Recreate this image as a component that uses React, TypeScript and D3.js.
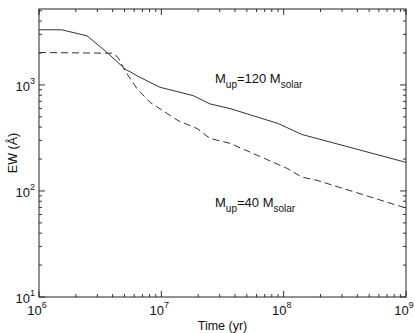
import { useEffect, useRef } from 'react';
import * as d3 from 'd3';

// time (yr) and EW (Angstrom)
const timeUp120 = [1e6, 1.53e6, 2.47e6, 3.6e6, 5.05e6, 6.7e6, 9.75e6, 1.82e7, 2.5e7, 3.65e7, 9e7, 1.41e8, 1e9];
const ewUp120 = [3311, 3311, 2905, 2023, 1413, 1179, 950, 793, 662, 598, 433, 341, 186];

const timeUp40 = [1e6, 4.03e6, 4.43e6, 5.05e6, 6.32e6, 8.09e6, 1.37e7, 1.96e7, 2.5e7, 3.65e7, 1.07e8, 1.41e8, 1.87e8, 1e9];
const ewUp40 = [2023, 1990, 1815, 1362, 923, 685, 461, 388, 313, 281, 163, 135, 126, 69];

const xMajor = [6, 7, 8, 9];
const yMajor = [1, 2, 3];

const W = 415;
const H = 333;
const FONT = '"Liberation Sans", Arial, Helvetica, sans-serif';

const App = () => {
  const svgRef = useRef<SVGSVGElement>(null);

  useEffect(() => {
    document.body.style.margin = '0';
    const margin = { top: 9, right: 9, bottom: 36, left: 39 };
    const width = W - margin.left - margin.right;
    const height = H - margin.top - margin.bottom;

    const svg = d3.select(svgRef.current);
    svg.selectAll('*').remove();
    const g = svg.append('g').attr('transform', `translate(${margin.left},${margin.top})`);

    const x = d3.scaleLog().domain([1e6, 1e9]).range([0, width]);
    const y = d3.scaleLog().domain([10, 5200]).range([height, 0]);

    // 刻度（四邊朝內）
    const xt = x.ticks();
    const yt = y.ticks();
    const isMajor = (v: number) => Math.abs(Math.log10(v) - Math.round(Math.log10(v))) < 1e-6;
    const tickCol = '#333';

    xt.forEach((v) => {
      const len = isMajor(v) ? 6 : 3;
      const px = x(v);
      g.append('line').attr('x1', px).attr('x2', px).attr('y1', height).attr('y2', height - len).attr('stroke', tickCol);
      g.append('line').attr('x1', px).attr('x2', px).attr('y1', 0).attr('y2', len).attr('stroke', tickCol);
    });
    yt.forEach((v) => {
      const len = isMajor(v) ? 6 : 3;
      const py = y(v);
      g.append('line').attr('x1', 0).attr('x2', len).attr('y1', py).attr('y2', py).attr('stroke', tickCol);
      g.append('line').attr('x1', width).attr('x2', width - len).attr('y1', py).attr('y2', py).attr('stroke', tickCol);
    });

    g.append('rect')
      .attr('x', 0)
      .attr('y', 0)
      .attr('width', width)
      .attr('height', height)
      .attr('fill', 'none')
      .attr('stroke', '#222')
      .attr('stroke-width', 1);

    // 刻度標籤 10^n
    xMajor.forEach((e) => {
      const t = g
        .append('text')
        .attr('x', x(Math.pow(10, e)) - 2)
        .attr('y', height + 18)
        .attr('text-anchor', 'middle')
        .style('font-family', FONT)
        .style('font-size', '13px')
        .attr('fill', '#111');
      t.append('tspan').text('10');
      t.append('tspan').attr('dy', -7).style('font-size', '9px').text(String(e));
    });
    yMajor.forEach((e) => {
      const t = g
        .append('text')
        .attr('x', -4)
        .attr('y', y(Math.pow(10, e)) + 6)
        .attr('text-anchor', 'end')
        .style('font-family', FONT)
        .style('font-size', '13px')
        .attr('fill', '#111');
      t.append('tspan').text('10');
      t.append('tspan').attr('dy', -7).style('font-size', '9px').text(String(e));
    });

    // 軸標題
    g.append('text')
      .attr('x', width / 2)
      .attr('y', height + 33)
      .attr('text-anchor', 'middle')
      .style('font-family', FONT)
      .style('font-size', '12.5px')
      .attr('fill', '#111')
      .text('Time (yr)');
    g.append('text')
      .attr('transform', `translate(${-22},${height / 2}) rotate(-90)`)
      .attr('text-anchor', 'middle')
      .style('font-family', FONT)
      .style('font-size', '12.5px')
      .attr('fill', '#111')
      .text('EW (Å)');

    const line = d3
      .line<[number, number]>()
      .x((d) => x(d[0]))
      .y((d) => y(d[1]));

    g.append('path')
      .datum(timeUp120.map((t, i) => [t, ewUp120[i]] as [number, number]))
      .attr('d', line)
      .attr('fill', 'none')
      .attr('stroke', '#333')
      .attr('stroke-width', 1);

    g.append('path')
      .datum(timeUp40.map((t, i) => [t, ewUp40[i]] as [number, number]))
      .attr('d', line)
      .attr('fill', 'none')
      .attr('stroke', '#333')
      .attr('stroke-width', 1)
      .attr('stroke-dasharray', '7,4');

    // 曲線標註
    const label = (px: number, py: number, mass: string) => {
      const t = g
        .append('text')
        .attr('x', px)
        .attr('y', py)
        .style('font-family', FONT)
        .style('font-size', '13px')
        .attr('fill', '#111');
      t.append('tspan').text('M');
      t.append('tspan').attr('dy', 5).style('font-size', '10px').text('up');
      t.append('tspan').attr('dy', -5).text(`=${mass} M`);
      t.append('tspan').attr('dy', 5).style('font-size', '10px').text('solar');
    };
    label(215 - margin.left, 83 - margin.top, '120');
    label(215 - margin.left, 207 - margin.top, '40');
  }, []);

  return (
    <div style={{ position: 'absolute', left: 0, top: 0 }}>
      <svg ref={svgRef} width={W} height={H} style={{ display: 'block', background: '#fff' }} />
    </div>
  );
};

export default App;
